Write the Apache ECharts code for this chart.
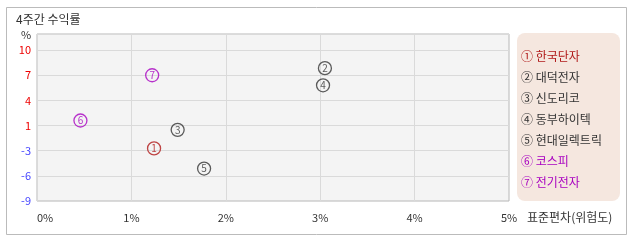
<!DOCTYPE html>
<html><head><meta charset="utf-8">
<script src="https://cdn.jsdelivr.net/npm/echarts@6/dist/echarts.min.js"></script>
<style>html,body{margin:0;padding:0;background:#fff}#c{width:638px;height:242px}</style>
</head><body><div id="c"></div>
<script>
const names = ['한국단자','대덕전자','신도리코','동부하이텍','현대일렉트릭','코스피','전기전자'];
const marks = ['①','②','③','④','⑤','⑥','⑦'];
const digits = ['1','2','3','4','5','6','7'];
const risk = [1.24, 3.05, 1.49, 3.03, 1.77, 0.46, 1.22];
const ret = [-2.31, 7.9, 0.05, 5.72, -4.87, 1.24, 7.0];
const colors = ['#b01818','#333333','#333333','#333333','#333333','#a800c0','#a800c0'];
const xTicks = [0,1,2,3,4,5];
const font = '"Noto Sans CJK KR","Noto Sans",sans-serif';

const chart = echarts.init(document.getElementById('c'));
const series = names.map((n,i)=>({
  name: marks[i]+' '+n,
  type: 'scatter',
  data: [[risk[i], ret[i]]],
  symbol: 'circle',
  symbolSize: 13,
  itemStyle: {color: 'rgba(0,0,0,0)', borderColor: colors[i], borderWidth: 1.3},
  label: {show: true, position: 'inside', formatter: digits[i], color: colors[i], fontSize: 10, fontFamily: font},
  emphasis: {disabled: true}
}));
chart.setOption({
  animation: false,
  textStyle: {fontFamily: font},
  graphic: [
    {type:'rect', shape:{x:6.5,y:7.5,width:620,height:227}, style:{fill:'#fff',stroke:'#bbbbbb',lineWidth:1}, z:-10},
    {type:'rect', shape:{x:517,y:33,width:103,height:168,r:8}, style:{fill:'#f5e7df'}, z:-5},
    {type:'text', left:16, top:13, style:{text:'4주간 수익률', fill:'#333', font:'12px '+font}},
    {type:'text', left:21, top:29, style:{text:'%', fill:'#333', font:'11px '+font}},
    {type:'text', left:527, top:211, style:{text:'표준편차(위험도)', fill:'#333', font:'12px '+font}}
  ],
  grid: {left:37, top:34, right:129, bottom:41, show:true, backgroundColor:'#f4f4f4', borderColor:'#b8b8b8', borderWidth:1},
  legend: {
    orient:'vertical', left:516, top:49, padding:0, itemGap:8, itemWidth:0, itemHeight:14, icon:'none',
    selectedMode:false,
    data: names.map((n,i)=>({name: marks[i]+' '+n, textStyle:{color: colors[i]}})),
    textStyle:{fontSize:12, fontFamily:font}
  },
  xAxis: {
    type:'value', min:0, max:5, interval:1,
    axisLine:{show:false}, axisTick:{show:false},
    splitLine:{show:true, lineStyle:{color:'#dadada'}},
    axisLabel:{formatter:v=>v+'%', color:'#333', fontSize:11, margin:11, alignMinLabel:'left'}
  },
  yAxis: {
    type:'value', min:-9, max:12.248, interval:3.2,
    axisLine:{show:false}, axisTick:{show:false},
    splitLine:{show:true, lineStyle:{color:'#dadada'}},
    axisLabel:{showMaxLabel:false, formatter:v=>String(Math.round(v)), color:(v)=> (v>0?'#ee0000':'#4444ff'), fontSize:11, margin:6}
  },
  series: series
});
</script></body></html>
